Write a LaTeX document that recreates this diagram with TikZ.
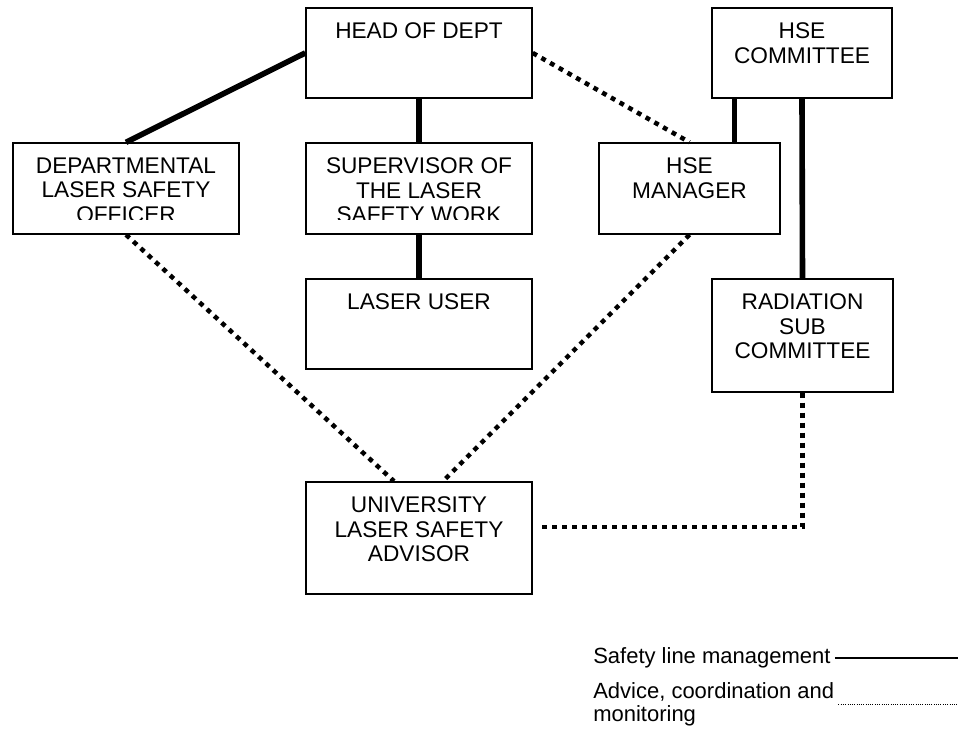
\documentclass[tikz,border=0pt]{standalone}
\usepackage{fontspec}
\setmainfont{Liberation Sans}
\usetikzlibrary{calc,fit}

\tikzset{
  unitbox/.style={draw, line width=1.1pt, inner sep=0pt},
  boxtext/.style={anchor=north, align=center, inner sep=0pt,
    font=\fontsize{17}{18.5}\selectfont},
  keytext/.style={inner sep=0pt, align=left,
    font=\fontsize{16.5}{17.5}\selectfont},
  mgmt/.style={line width=4.2pt},
  advice/.style={line width=3.4pt, dash pattern=on 3.6pt off 3.9pt},
}

\begin{document}
\begin{tikzpicture}[x=0.75pt,y=0.75pt,yscale=-1]
\useasboundingbox (0,0) rectangle (958,755);

% boxes
\node (head) [unitbox, fit={(306,8) (532,98)}] {};
\node (hsec) [unitbox, fit={(712,8) (892,98)}] {};
\node (dlso) [unitbox, fit={(13,143) (239,234)}] {};
\node (sup)  [unitbox, fit={(306,143) (532,234)}] {};
\node (hsem) [unitbox, fit={(599,143) (780,234)}] {};
\node (user) [unitbox, fit={(306,279) (532,369)}] {};
\node (rad)  [unitbox, fit={(712,279) (893,392)}] {};
\node (univ) [unitbox, fit={(306,482) (532,594)}] {};

% texts
\node (headtxt) [boxtext] at ($(head.north)+(0,15)$) {HEAD OF DEPT};
\node (hsectxt) [boxtext] at ($(hsec.north)+(0,15)$) {HSE\\COMMITTEE};
\begin{scope}
  \clip (dlso.north west) rectangle ($(dlso.south east)+(0,-15)$);
  \node (dlsotxt) [boxtext] at ($(dlso.north)+(0,15)$) {DEPARTMENTAL\\LASER SAFETY\\OFFICER};
\end{scope}
\begin{scope}
  \clip (sup.north west) rectangle ($(sup.south east)+(0,-15)$);
  \node (suptxt) [boxtext] at ($(sup.north)+(0,15)$) {SUPERVISOR OF\\THE LASER\\SAFETY WORK};
\end{scope}
\node (hsemtxt) [boxtext] at ($(hsem.north)+(0,15)$) {HSE\\MANAGER};
\node (usertxt) [boxtext] at ($(user.north)+(0,15)$) {LASER USER};
\node (radtxt)  [boxtext] at ($(rad.north)+(0,15)$) {RADIATION\\SUB\\COMMITTEE};
\node (univtxt) [boxtext] at ($(univ.north)+(0,15)$) {UNIVERSITY\\LASER SAFETY\\ADVISOR};

% line management
\draw [mgmt] (head.west) -- (dlso.north);
\draw [mgmt] (head.south) -- (sup.north);
\draw [mgmt] (sup.south) -- (user.north);
\draw [mgmt] ($(hsem.north)+(45,0)$) coordinate (hm) -- (hm |- hsec.south);
\draw [mgmt] (hsec.south) -- (rad.north);

% advice lines
\draw [advice] (head.east) -- (hsem.north);
\draw [advice] (dlso.south) -- ($(univ.north)+(-25,0)$);
\draw [advice] (hsem.south) -- ($(univ.north)+(24,0)$);
\draw [advice] (rad.south) |- ($(univ.east)+(6,-11)$);

% key
\node (key1) [keytext, anchor=west] at (593,658) {Safety line management};
\coordinate (key1end) at (958,658);
\draw [line width=1pt] ($(key1.east)+(4,0)$) -- (key1end);
\node (key2) [keytext, anchor=west] at (593,704) {Advice, coordination and\\monitoring};
\coordinate (key2end) at (958,704);
\draw [line width=0.7pt, dash pattern=on 0.7pt off 1pt] ($(key2.east)+(4,0)$) -- (key2end);

\end{tikzpicture}
\end{document}
